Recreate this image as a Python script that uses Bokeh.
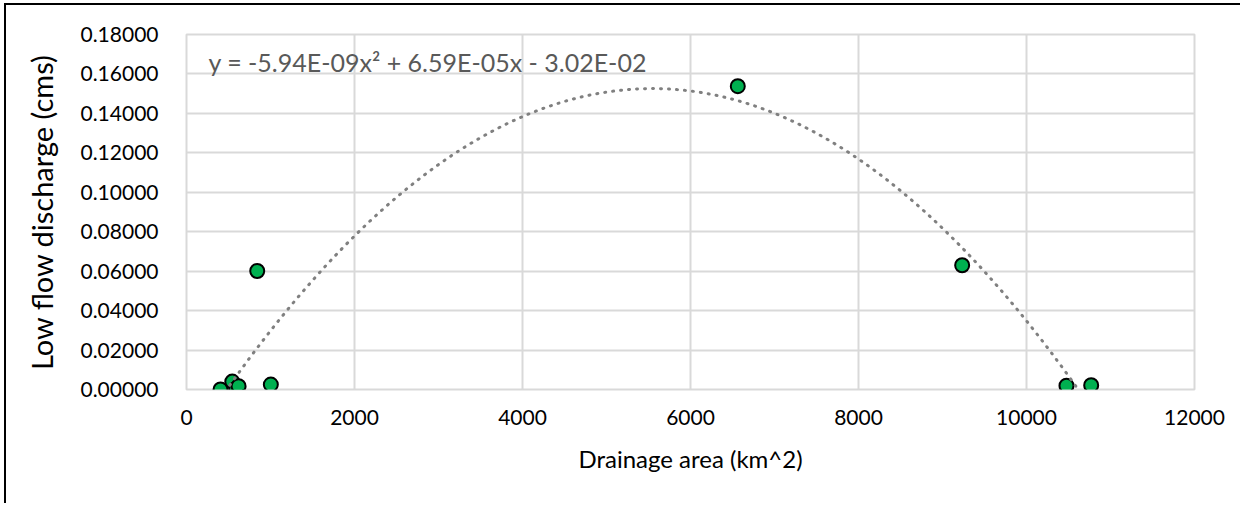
import numpy as np
from bokeh.plotting import figure
from bokeh.models import FixedTicker, PrintfTickFormatter, Label, ColumnDataSource
from bokeh.embed import file_html
from bokeh.resources import INLINE

# data
area = [405, 545, 592, 620, 842, 1004, 6563, 9234, 10476, 10770]
discharge = [0.0000, 0.0040, 0.0005, 0.0017, 0.0601, 0.0025, 0.1538, 0.0630, 0.0019, 0.0022]
trend_coef = [-5.94e-09, 6.59e-05, -3.02e-02]
trend_label = "y = -5.94E-09x\u00b2 + 6.59E-05x - 3.02E-02"
x_ticks = [0, 2000, 4000, 6000, 8000, 10000, 12000]
y_ticks = [0.0, 0.02, 0.04, 0.06, 0.08, 0.10, 0.12, 0.14, 0.16, 0.18]

FONT = "Lato"
GRID = "#D9D9D9"

p = figure(width=1236, height=500, output_backend="svg", toolbar_location=None,
           x_range=(0, 12000), y_range=(0, 0.18),
           min_border_left=180, min_border_right=48, min_border_top=29, min_border_bottom=116,
           margin=(3, 0, 0, 4),
           styles={"border-top": "2px solid black", "border-left": "2px solid black"})
p.background_fill_color = "white"
p.border_fill_color = "white"
p.outline_line_color = GRID
p.outline_line_width = 2

for ax in (p.xaxis[0], p.yaxis[0]):
    ax.axis_line_color = None
    ax.major_tick_line_color = None
    ax.minor_tick_line_color = None
    ax.major_tick_in = 0
    ax.major_tick_out = 0
    ax.minor_tick_out = 0
    ax.major_label_text_font = FONT
    ax.major_label_text_font_size = "21px"
    ax.major_label_text_color = "black"
    ax.axis_label_text_font = FONT
    ax.axis_label_text_font_style = "normal"
    ax.axis_label_text_color = "black"

p.xaxis.ticker = FixedTicker(ticks=x_ticks)
p.xaxis.formatter = PrintfTickFormatter(format="%d")
p.xaxis.major_label_standoff = 20
p.xaxis.axis_label = "Drainage area (km^2)"
p.xaxis.axis_label_text_font_size = "24px"
p.xaxis.axis_label_standoff = 16

p.yaxis.ticker = FixedTicker(ticks=y_ticks)
p.yaxis.formatter = PrintfTickFormatter(format="%.5f")
p.yaxis.major_label_standoff = 28
p.yaxis.axis_label = "Low flow discharge (cms)"
p.yaxis.axis_label_text_font_size = "29px"
p.yaxis.axis_label_standoff = 18

p.xgrid.grid_line_color = GRID
p.ygrid.grid_line_color = GRID
p.xgrid.grid_line_width = 2
p.ygrid.grid_line_width = 2

src = ColumnDataSource(dict(x=area, y=discharge))
p.scatter("x", "y", source=src, size=14, fill_color="#00B050", line_color="black", line_width=2)

# polynomial trendline over the data's x span
xs = np.linspace(min(area), max(area), 400)
ys = np.polyval(trend_coef, xs)
p.line(xs, ys, line_color="#808080", line_width=3, line_dash="1 7", line_cap="round")

p.add_layout(Label(x=262, y=0.1660, text=trend_label,
                   text_font=FONT, text_font_size="25px", text_color="#595959",
                   text_baseline="alphabetic"))

open("out.html", "w").write(file_html(p, INLINE))
